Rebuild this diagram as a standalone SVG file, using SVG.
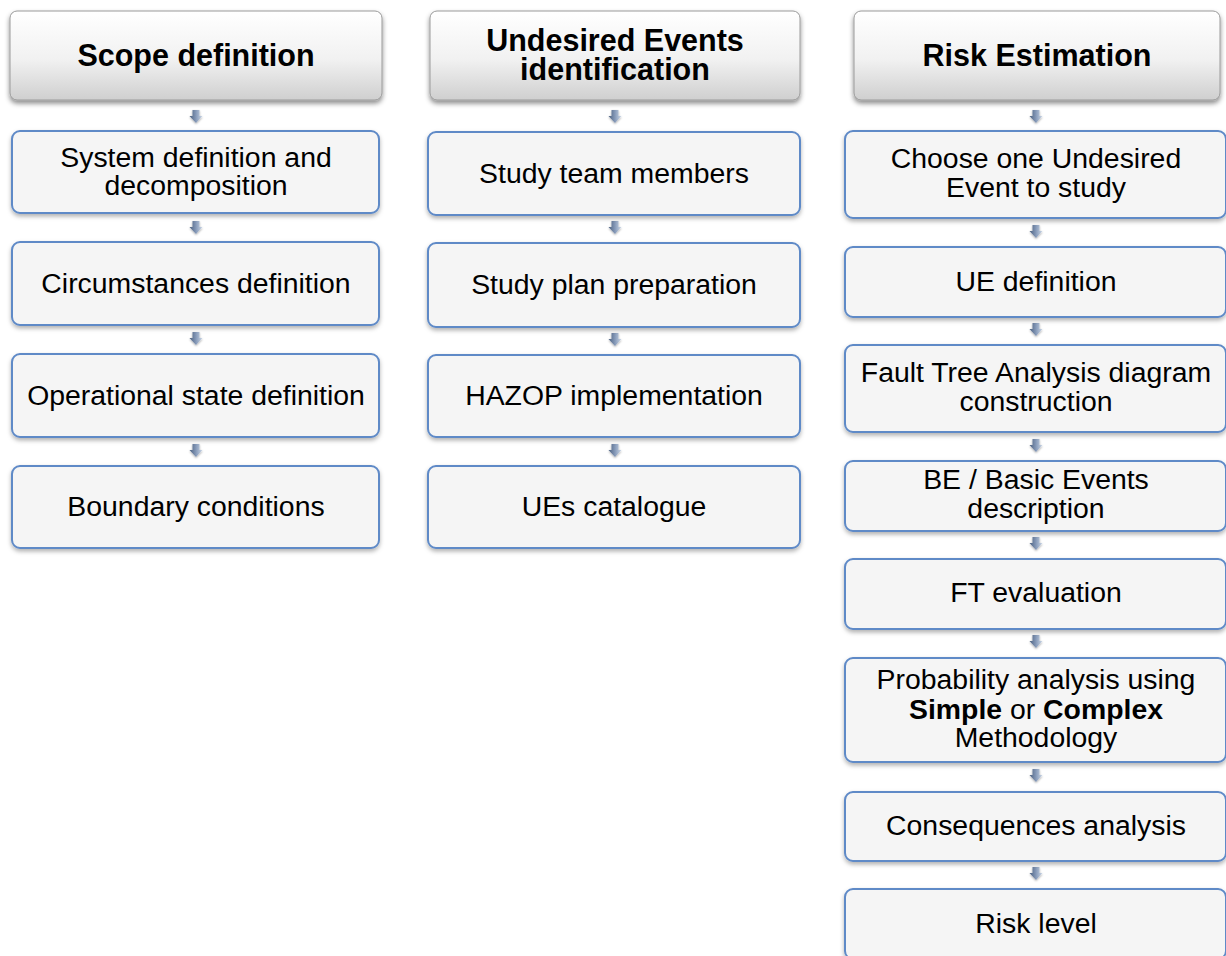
<svg xmlns="http://www.w3.org/2000/svg" xmlns:xlink="http://www.w3.org/1999/xlink" width="1226" height="956" viewBox="0 0 1226 956">
  <defs>
    <linearGradient id="hdrFill" x1="0" y1="0" x2="0" y2="1">
      <stop offset="0" stop-color="#ffffff"/>
      <stop offset="0.55" stop-color="#f1f1f1"/>
      <stop offset="1" stop-color="#cfcfcf"/>
    </linearGradient>
    <linearGradient id="arrowFill" x1="0" y1="0" x2="1" y2="0">
      <stop offset="0" stop-color="#4b6080"/>
      <stop offset="0.5" stop-color="#8599b8"/>
      <stop offset="1" stop-color="#cdd8e8"/>
    </linearGradient>
    <filter id="hdrShadow" x="-5%" y="-10%" width="110%" height="130%">
      <feDropShadow dx="0" dy="3" stdDeviation="2.5" flood-color="#000" flood-opacity="0.45"/>
    </filter>
    <filter id="boxShadow" x="-5%" y="-10%" width="110%" height="130%">
      <feDropShadow dx="0" dy="2.5" stdDeviation="2" flood-color="#000" flood-opacity="0.3"/>
    </filter>
    <filter id="arrowShadow" x="-50%" y="-50%" width="200%" height="200%">
      <feDropShadow dx="0" dy="1" stdDeviation="1" flood-color="#000" flood-opacity="0.35"/>
    </filter>
    <path id="downArrow" d="M-3.5,0 H3.5 V6 H6.5 L0,13 L-6.5,6 H-3.5 Z"/>
  </defs>
  <style>
    .hdr rect { fill: url(#hdrFill); stroke: #9a9a9a; stroke-width: 1; filter: url(#hdrShadow); }
    .hdr text { font-family: "Liberation Sans", Arial, sans-serif; font-weight: bold; font-size: 30.5px; fill: #000; text-anchor: middle; }
    .box rect { fill: #f5f5f5; stroke: #5f8ac7; stroke-width: 2; filter: url(#boxShadow); }
    .box text { font-family: "Liberation Sans", Arial, sans-serif; font-size: 28.4px; fill: #000; text-anchor: middle; }
    .box text .b { font-weight: bold; }
    .arrows use { fill: url(#arrowFill); filter: url(#arrowShadow); }
  </style>

  <rect width="1226" height="956" fill="#ffffff"/>

  <!-- connectors: small block arrows between steps -->
  <g id="connectors" class="arrows">
    <use xlink:href="#downArrow" href="#downArrow" x="196" y="110"/>
    <use xlink:href="#downArrow" href="#downArrow" x="196" y="221"/>
    <use xlink:href="#downArrow" href="#downArrow" x="196" y="332"/>
    <use xlink:href="#downArrow" href="#downArrow" x="196" y="444"/>

    <use xlink:href="#downArrow" href="#downArrow" x="615" y="110"/>
    <use xlink:href="#downArrow" href="#downArrow" x="615" y="221"/>
    <use xlink:href="#downArrow" href="#downArrow" x="615" y="333"/>
    <use xlink:href="#downArrow" href="#downArrow" x="615" y="444"/>

    <use xlink:href="#downArrow" href="#downArrow" x="1036" y="110"/>
    <use xlink:href="#downArrow" href="#downArrow" x="1036" y="225"/>
    <use xlink:href="#downArrow" href="#downArrow" x="1036" y="323"/>
    <use xlink:href="#downArrow" href="#downArrow" x="1036" y="439"/>
    <use xlink:href="#downArrow" href="#downArrow" x="1036" y="537"/>
    <use xlink:href="#downArrow" href="#downArrow" x="1036" y="635"/>
    <use xlink:href="#downArrow" href="#downArrow" x="1036" y="769"/>
    <use xlink:href="#downArrow" href="#downArrow" x="1036" y="867"/>
  </g>

  <!-- column 1: scope definition -->
  <g id="hdr-scope" class="hdr">
    <rect x="10" y="11" width="372" height="89" rx="7"/>
    <text x="196" y="66">Scope definition</text>
  </g>
  <g id="system-definition" class="box">
    <rect x="12" y="131" width="367" height="82" rx="8"/>
    <text x="196" y="167">System definition and</text>
    <text x="196" y="195">decomposition</text>
  </g>
  <g id="circumstances" class="box">
    <rect x="12" y="242" width="367" height="83" rx="8"/>
    <text x="196" y="293">Circumstances definition</text>
  </g>
  <g id="operational-state" class="box">
    <rect x="12" y="354" width="367" height="83" rx="8"/>
    <text x="196" y="405">Operational state definition</text>
  </g>
  <g id="boundary-conditions" class="box">
    <rect x="12" y="466" width="367" height="82" rx="8"/>
    <text x="196" y="516">Boundary conditions</text>
  </g>

  <!-- column 2: undesired events identification -->
  <g id="hdr-ue" class="hdr">
    <rect x="430" y="11" width="370" height="89" rx="7"/>
    <text x="615" y="51">Undesired Events</text>
    <text x="615" y="80">identification</text>
  </g>
  <g id="study-team" class="box">
    <rect x="428" y="132" width="372" height="83" rx="8"/>
    <text x="614" y="183">Study team members</text>
  </g>
  <g id="study-plan" class="box">
    <rect x="428" y="243" width="372" height="84" rx="8"/>
    <text x="614" y="294">Study plan preparation</text>
  </g>
  <g id="hazop" class="box">
    <rect x="428" y="355" width="372" height="82" rx="8"/>
    <text x="614" y="405">HAZOP implementation</text>
  </g>
  <g id="ue-catalogue" class="box">
    <rect x="428" y="466" width="372" height="82" rx="8"/>
    <text x="614" y="516">UEs catalogue</text>
  </g>

  <!-- column 3: risk estimation -->
  <g id="hdr-risk" class="hdr">
    <rect x="854" y="11" width="366" height="89" rx="7"/>
    <text x="1037" y="66">Risk Estimation</text>
  </g>
  <g id="choose-ue" class="box">
    <rect x="845" y="131" width="381" height="87" rx="8"/>
    <text x="1036" y="168">Choose one Undesired</text>
    <text x="1036" y="197">Event to study</text>
  </g>
  <g id="ue-definition" class="box">
    <rect x="845" y="247" width="381" height="70" rx="8"/>
    <text x="1036" y="291">UE definition</text>
  </g>
  <g id="fta-construction" class="box">
    <rect x="845" y="345" width="381" height="87" rx="8"/>
    <text x="1036" y="382">Fault Tree Analysis diagram</text>
    <text x="1036" y="411">construction</text>
  </g>
  <g id="basic-events" class="box">
    <rect x="845" y="461" width="381" height="70" rx="8"/>
    <text x="1036" y="489">BE / Basic Events</text>
    <text x="1036" y="518">description</text>
  </g>
  <g id="ft-evaluation" class="box">
    <rect x="845" y="559" width="381" height="70" rx="8"/>
    <text x="1036" y="602">FT evaluation</text>
  </g>
  <g id="probability-analysis" class="box">
    <rect x="845" y="658" width="381" height="104" rx="8"/>
    <text x="1036" y="689">Probability analysis using</text>
    <text x="1036" y="719"><tspan class="b">Simple</tspan> or <tspan class="b">Complex</tspan></text>
    <text x="1036" y="747">Methodology</text>
  </g>
  <g id="consequences" class="box">
    <rect x="845" y="792" width="381" height="69" rx="8"/>
    <text x="1036" y="835">Consequences analysis</text>
  </g>
  <g id="risk-level" class="box">
    <rect x="845" y="889" width="381" height="70" rx="8"/>
    <text x="1036" y="933">Risk level</text>
  </g>
</svg>
